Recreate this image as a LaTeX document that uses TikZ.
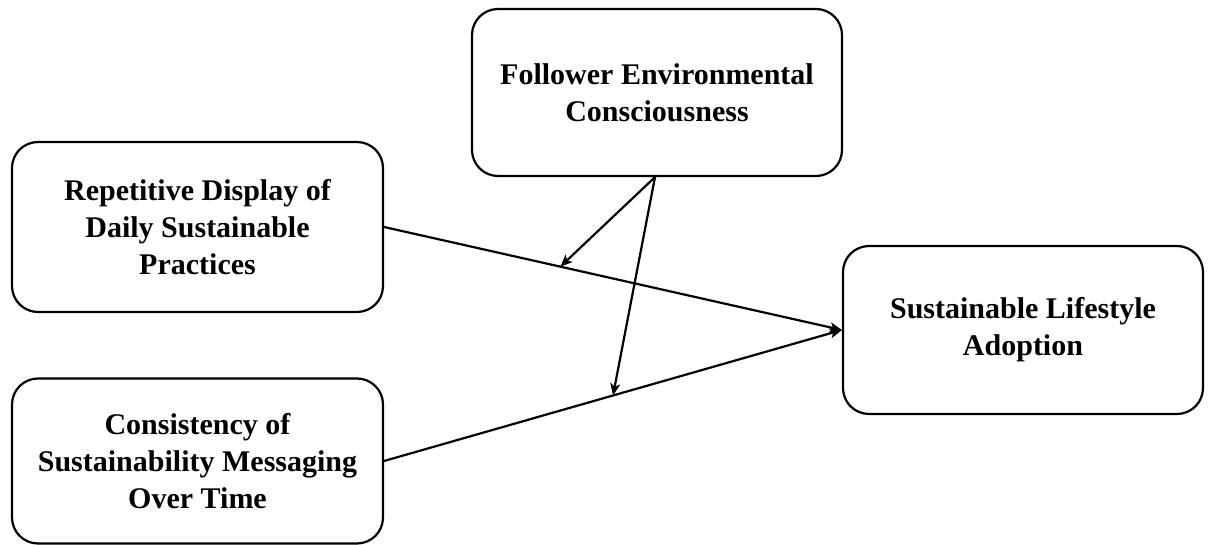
\documentclass[tikz,border=0pt]{standalone}
\usepackage{fontspec}
\setmainfont{Liberation Serif}
\usetikzlibrary{arrows.meta,calc}
\begin{document}
\begin{tikzpicture}[x=1pt,y=-1pt,
  box/.style={draw=black,line width=2.2pt,rounded corners=26pt,align=center,
    font=\fontsize{30}{37}\selectfont\bfseries,inner sep=0pt},
  conn/.style={line width=2.2pt,-{Stealth[length=12pt,width=10pt,inset=3pt]}}]
\useasboundingbox (0,0) rectangle (1208,545);
\node[box,minimum width=371pt,minimum height=170pt] (b1) at (197.5,227)
  {Repetitive Display of\\Daily Sustainable\\Practices};
\node[box,minimum width=371pt,minimum height=165pt] (b2) at (197.5,461)
  {Consistency of\\Sustainability Messaging\\Over Time};
\node[box,minimum width=370pt,minimum height=167pt] (top) at (657,92.5)
  {Follower Environmental\\Consciousness};
\node[box,minimum width=360pt,minimum height=168pt] (out) at (1023,330)
  {Sustainable Lifestyle\\Adoption};
\draw[conn] (b1.east) -- coordinate[pos=0.385] (m1) (out.west);
\draw[conn] (b2.east) -- coordinate[pos=0.5] (m2) (out.west);
\coordinate (src) at ([xshift=-2pt]top.south);
\draw[conn] (src) -- (m1);
\draw[conn] (src) -- (m2);
\end{tikzpicture}
\end{document}
